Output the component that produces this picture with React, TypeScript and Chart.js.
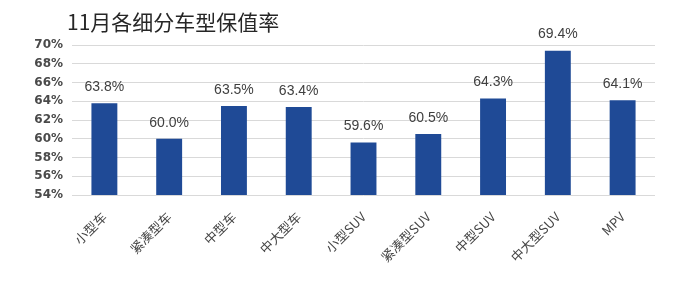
import React, { useEffect, useRef } from "react";
import { Chart, registerables } from "chart.js";

Chart.register(...registerables);

const titleText = "11月各细分车型保值率";
const categories = ["小型车", "紧凑型车", "中型车", "中大型车", "小型SUV", "紧凑型SUV", "中型SUV", "中大型SUV", "MPV"];
const retentionRates = [63.8, 60.0, 63.5, 63.4, 59.6, 60.5, 64.3, 69.4, 64.1];
const yMin = 54;
const yMax = 70;
const yStep = 2;

const titlePlugin = {
  id: "customTitle",
  afterDraw(chart: any) {
    const ctx = chart.ctx;
    ctx.save();
    ctx.font = '21px "Noto Sans CJK SC", sans-serif';
    ctx.fillStyle = "#262626";
    ctx.textAlign = "left";
    ctx.textBaseline = "middle";
    ctx.fillText(titleText, 67, 22);
    ctx.restore();
  },
};

const valueLabelPlugin = {
  id: "valueLabels",
  afterDatasetsDraw(chart: any) {
    const ctx = chart.ctx;
    const meta = chart.getDatasetMeta(0);
    const data = chart.data.datasets[0].data as number[];
    ctx.save();
    ctx.font = '14px "Liberation Sans", Arial, sans-serif';
    ctx.fillStyle = "#404040";
    ctx.textAlign = "center";
    ctx.textBaseline = "middle";
    meta.data.forEach((bar: any, i: number) => {
      ctx.fillText(data[i].toFixed(1) + "%", bar.x, bar.y - 16);
    });
    ctx.restore();
  },
};

export default function App() {
  const canvasRef = useRef<HTMLCanvasElement | null>(null);

  useEffect(() => {
    document.body.style.margin = "0";
    const canvas = canvasRef.current;
    if (!canvas) return;
    const chart = new Chart(canvas, {
      type: "bar",
      data: {
        labels: categories,
        datasets: [
          {
            data: retentionRates,
            backgroundColor: "#1F4A96",
            barPercentage: 0.8,
            categoryPercentage: 0.5,
          },
        ],
      },
      options: {
        responsive: false,
        animation: false,
        layout: { padding: { left: 0, right: 25, top: 45, bottom: 0 } },
        plugins: {
          legend: { display: false },
          title: { display: false },
          tooltip: { enabled: false },
        },
        scales: {
          x: {
            grid: { display: false, drawTicks: false },
            border: { display: false },
            ticks: {
              minRotation: 45,
              maxRotation: 45,
              padding: 14,
              color: "#454545",
              font: { family: '"Noto Sans CJK SC", sans-serif', size: 13 },
            },
            afterFit(scale: any) {
              scale.height = 93;
            },
          },
          y: {
            min: yMin,
            max: yMax,
            grid: { color: "#d9d9d9", drawTicks: false, lineWidth: 1 },
            border: { display: false },
            ticks: {
              stepSize: yStep,
              padding: 9,
              color: "#4a4a4a",
              font: { family: '"DejaVu Sans", sans-serif', size: 12, weight: "bold" },
              callback: (v: any) => v + "%",
            },
            afterFit(scale: any) {
              scale.width = 72;
            },
          },
        },
      },
      plugins: [titlePlugin, valueLabelPlugin],
    });
    return () => chart.destroy();
  }, []);

  return (
    <div style={{ width: 680, height: 288, background: "#fff" }}>
      <canvas ref={canvasRef} width={680} height={288} />
    </div>
  );
}
